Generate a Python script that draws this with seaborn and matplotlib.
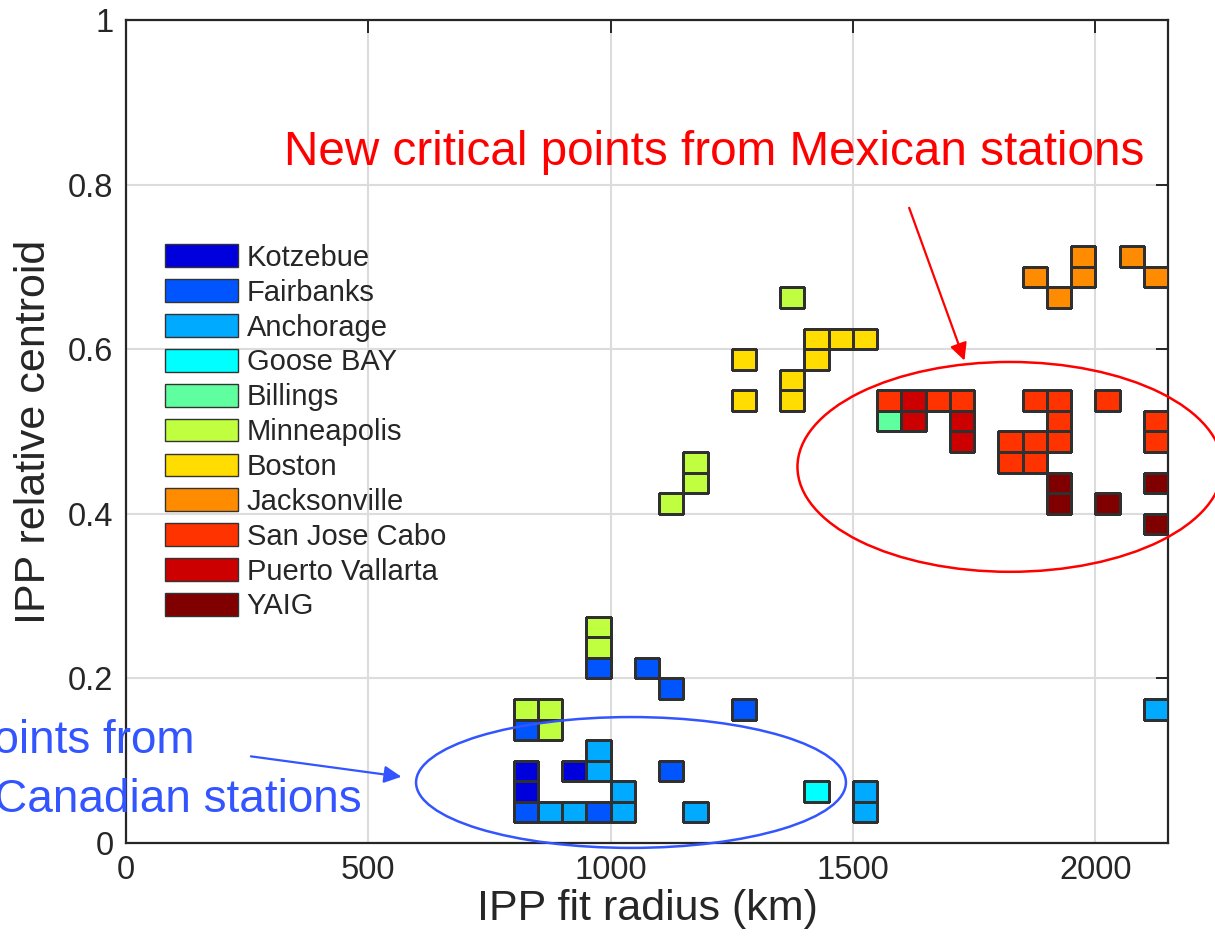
import numpy as np
import pandas as pd
import matplotlib
matplotlib.use("Agg")
import matplotlib.pyplot as plt
from matplotlib.colors import ListedColormap, to_rgba
from matplotlib.patches import Patch, Ellipse
import seaborn as sns

# ---------------- data (cell centres: radius km, relative centroid) ----------------
stations = ["Kotzebue", "Fairbanks", "Anchorage", "Goose BAY", "Billings",
            "Minneapolis", "Boston", "Jacksonville", "San Jose Cabo",
            "Puerto Vallarta", "YAIG"]
station_colors = ["#0000dd", "#0055ff", "#00aaff", "#00ffff", "#5fffa0",
                  "#bfff3f", "#ffdd00", "#ff8c00", "#ff3300", "#cc0000", "#800000"]

kotzebue_x = [825, 825, 925]
kotzebue_y = [0.0625, 0.0875, 0.0875]
fairbanks_x = [825, 975, 1125, 825, 1275, 1125, 975, 1075]
fairbanks_y = [0.0375, 0.0375, 0.0875, 0.1375, 0.1625, 0.1875, 0.2125, 0.2125]
anchorage_x = [875, 925, 1025, 1175, 1525, 1025, 1525, 975, 975, 2125]
anchorage_y = [0.0375, 0.0375, 0.0375, 0.0375, 0.0375, 0.0625, 0.0625, 0.0875, 0.1125, 0.1625]
goose_x = [1425]
goose_y = [0.0625]
billings_x = [1575]
billings_y = [0.5125]
minneapolis_x = [875, 825, 875, 975, 975, 1125, 1175, 1175, 1375]
minneapolis_y = [0.1375, 0.1625, 0.1625, 0.2375, 0.2625, 0.4125, 0.4375, 0.4625, 0.6625]
boston_x = [1275, 1275, 1375, 1375, 1425, 1425, 1475, 1525]
boston_y = [0.5375, 0.5875, 0.5375, 0.5625, 0.5875, 0.6125, 0.6125, 0.6125]
jacksonville_x = [1875, 1925, 1975, 1975, 2075, 2125]
jacksonville_y = [0.6875, 0.6625, 0.6875, 0.7125, 0.7125, 0.6875]
sjc_x = [1575, 1675, 1725, 1875, 1925, 2025, 1925, 2125, 1825, 1875, 1925, 2125, 1825, 1875]
sjc_y = [0.5375, 0.5375, 0.5375, 0.5375, 0.5375, 0.5375, 0.5125, 0.5125,
         0.4875, 0.4875, 0.4875, 0.4875, 0.4625, 0.4625]
pv_x = [1625, 1625, 1725, 1725]
pv_y = [0.5375, 0.5125, 0.5125, 0.4875]
yaig_x = [1925, 2125, 1925, 2025, 2125]
yaig_y = [0.4375, 0.4375, 0.4125, 0.4125, 0.3875]

xs = [kotzebue_x, fairbanks_x, anchorage_x, goose_x, billings_x, minneapolis_x,
      boston_x, jacksonville_x, sjc_x, pv_x, yaig_x]
ys = [kotzebue_y, fairbanks_y, anchorage_y, goose_y, billings_y, minneapolis_y,
      boston_y, jacksonville_y, sjc_y, pv_y, yaig_y]

df = pd.concat([pd.DataFrame({"radius": x, "centroid": y, "station": s})
                for s, x, y in zip(stations, xs, ys)], ignore_index=True)

xticks = [0, 500, 1000, 1500, 2000]
yticks = [0, 0.2, 0.4, 0.6, 0.8, 1.0]
ytick_labels = ["0", "0.2", "0.4", "0.6", "0.8", "1"]

# ---------------- style ----------------
sns.set_theme(style="white")
plt.rcParams["font.family"] = ["Liberation Sans", "DejaVu Sans"]
dark = "#262626"

fig = plt.figure(figsize=(12.15, 9.36), dpi=100)
ax = fig.add_axes([0.1037, 0.0994, 0.8576, 0.8792])

for s, c in zip(stations, station_colors):
    sub = df[df["station"] == s]
    sns.histplot(data=sub, x="radius", y="centroid", ax=ax,
                 binwidth=(50, 0.025), binrange=((0, 2150), (0, 1)),
                 cmap=ListedColormap([c]), zorder=3)
    mesh = ax.collections[-1]
    mask = np.ma.getmaskarray(mesh.get_array()).ravel()
    ec = np.array([to_rgba("#303030") if not m else (0, 0, 0, 0) for m in mask])
    mesh.set_edgecolor(ec)
    mesh.set_linewidth(0.75)
    mesh.set_antialiased(True)

ax.set_xlim(0, 2150)
ax.set_ylim(0, 1)
ax.set_xticks(xticks)
ax.set_xticklabels([str(t) for t in xticks])
ax.set_yticks(yticks)
ax.set_yticklabels(ytick_labels)
ax.grid(True, color="#dcdcdc", linewidth=1.5)
ax.set_axisbelow(True)
for sp in ax.spines.values():
    sp.set_color(dark)
    sp.set_linewidth(1.6)
    sp.set_visible(True)
ax.tick_params(direction="in", length=9, width=1.4, colors=dark,
               labelsize=23.5, pad=9, top=True, right=True)
ax.set_xlabel("IPP fit radius (km)", fontsize=31, color=dark, labelpad=2)
ax.set_ylabel("IPP relative centroid", fontsize=31, color=dark, labelpad=10)

handles = [Patch(facecolor=c, edgecolor="#333333", linewidth=1.0) for c in station_colors]
ax.legend(handles, stations, loc="upper left", bbox_to_anchor=(0.0374, 0.728),
          frameon=False, fontsize=21, handlelength=2.5, handleheight=0.82,
          handletextpad=0.3, labelspacing=0.235, borderpad=0, borderaxespad=0)

# ---------------- annotations ----------------
red = "#ff0000"
blue = "#3355ff"
ax.text(1214, 0.824, "New critical points from Mexican stations", color=red,
        fontsize=34.3, ha="center", va="baseline", clip_on=False)
ax.annotate("", xy=(1732, 0.583), xytext=(1614, 0.775),
            arrowprops=dict(arrowstyle="-|>", color=red, lw=1.6,
                            mutation_scale=26), annotation_clip=False)
ax.add_patch(Ellipse((1824, 0.457), 877, 0.255, fill=False, edgecolor=red,
                     linewidth=1.8, clip_on=False, zorder=5))

ax.text(142, 0.109, "points from", color=blue, fontsize=33, ha="right",
        va="baseline", clip_on=False)
ax.text(487, 0.0377, "Canadian stations", color=blue, fontsize=33, ha="right",
        va="baseline", clip_on=False)
ax.annotate("", xy=(574, 0.080), xytext=(252, 0.1057),
            arrowprops=dict(arrowstyle="-|>", color=blue, lw=1.6,
                            mutation_scale=26), annotation_clip=False)
ax.add_patch(Ellipse((1042, 0.0735), 887, 0.159, fill=False, edgecolor=blue,
                     linewidth=1.8, clip_on=False, zorder=5))

fig.savefig("out.png", dpi=100)
